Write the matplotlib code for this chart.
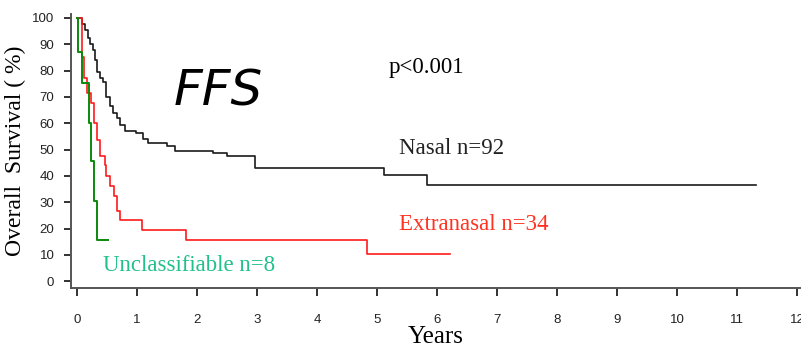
import matplotlib
matplotlib.use("Agg")
import matplotlib.pyplot as plt
import numpy as np

# Kaplan-Meier step curves (time in years, survival %)
nasal_t = [0.0, 0.02, 0.08, 0.13, 0.18, 0.22, 0.27, 0.30, 0.33, 0.38, 0.44, 0.49,
           0.55, 0.60, 0.66, 0.72, 0.80, 0.99, 1.10, 1.18, 1.50, 1.63, 2.27, 2.50,
           2.97, 5.12, 5.83, 11.32]
nasal_s = [100, 100, 97.8, 95.4, 92.4, 90.2, 87.8, 84.0, 79.6, 77.2, 75.8, 70.0,
           66.5, 64.0, 62.0, 59.5, 56.9, 56.3, 54.0, 52.5, 51.2, 49.3, 48.8, 47.4,
           43.0, 40.4, 36.4, 36.4]

extra_t = [0.0, 0.05, 0.08, 0.12, 0.16, 0.24, 0.28, 0.33, 0.38, 0.47, 0.49, 0.55,
           0.61, 0.66, 0.72, 1.08, 1.81, 4.84, 6.22]
extra_s = [100, 100, 85.3, 77.0, 71.4, 67.6, 60.0, 53.7, 47.4, 44.2, 40.0, 36.0,
           32.2, 26.5, 23.3, 19.3, 15.7, 10.4, 10.4]

uncl_t = [0.0, 0.01, 0.08, 0.20, 0.23, 0.29, 0.34, 0.51]
uncl_s = [100, 87.2, 75.2, 60.0, 45.6, 30.3, 15.7, 15.7]

x_ticks = list(range(0, 13))
y_ticks = list(range(0, 101, 10))

fig = plt.figure(figsize=(8.01, 3.55), dpi=100)
ax = fig.add_axes([71 / 801, 1 - 288 / 355, 729 / 801, 274 / 355])

ax.step(nasal_t, nasal_s, where="post", color="#1a1a1a", lw=1.2)
ax.step(extra_t, extra_s, where="post", color="#ff1a1a", lw=1.2)
ax.step(uncl_t, uncl_s, where="post", color="#0a8a0a", lw=1.4)

ax.set_xlim(-0.1, 12.05)
ax.set_ylim(-2.6, 101.5)
ax.set_xticks(x_ticks)
ax.set_yticks(y_ticks)
ax.tick_params(axis="x", length=6, width=1.3, pad=13, labelsize=9.5, colors="#222222")
ax.tick_params(axis="y", length=5, width=1.3, pad=7, labelsize=9.5, colors="#222222")
for lab in ax.get_xticklabels() + ax.get_yticklabels():
    lab.set_family("Liberation Sans")

for side in ("top", "right"):
    ax.spines[side].set_visible(False)
for side in ("left", "bottom"):
    ax.spines[side].set_linewidth(1.4)
    ax.spines[side].set_color("#555555")

ax.set_xlabel("Years", family="Liberation Serif", fontsize=18, labelpad=0)
ax.set_ylabel("Overall  Survival ( %)", family="Liberation Serif", fontsize=17, labelpad=4)

ax.text(2.35, 72, "FFS", family="DejaVu Sans", style="italic", fontsize=36,
        ha="center", va="center", color="black")
ax.text(5.2, 81, "p<0.001", family="Liberation Serif", fontsize=16.5, ha="left", va="center")
ax.text(5.37, 50.5, "Nasal n=92", family="Liberation Serif", fontsize=16.5,
        ha="left", va="center", color="#222222")
ax.text(5.37, 21.5, "Extranasal n=34", family="Liberation Serif", fontsize=16.5,
        ha="left", va="center", color="#ff3322")
ax.text(0.43, 5.8, "Unclassifiable n=8", family="Liberation Serif", fontsize=16.5,
        ha="left", va="center", color="#22c08a")

fig.savefig("out.png", dpi=100)
